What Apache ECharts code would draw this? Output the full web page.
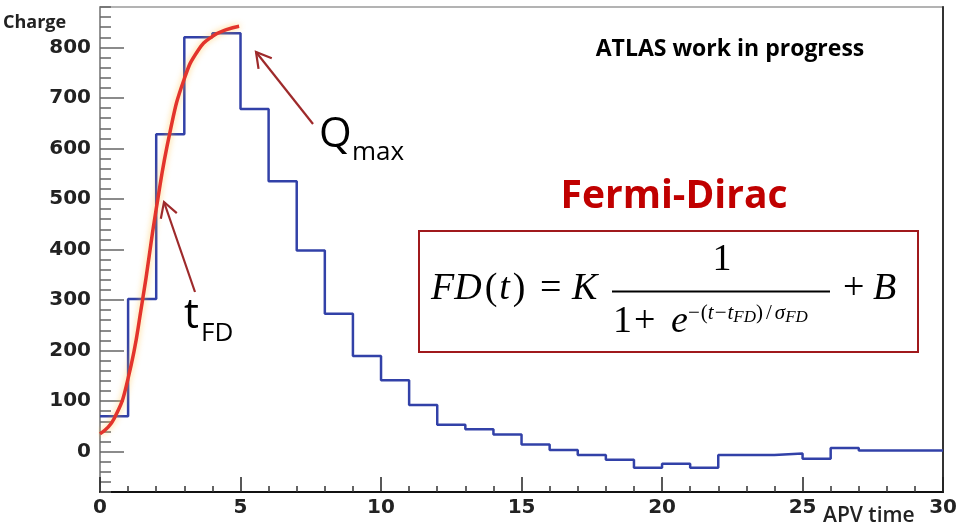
<!DOCTYPE html>
<html><head><meta charset="utf-8">
<script src="https://cdn.jsdelivr.net/npm/echarts@6/dist/echarts.min.js"></script>
<style>html,body{margin:0;padding:0;background:#fff}#c{width:960px;height:526px}</style>
</head><body><div id="c"></div>
<script>
// ---- data ----
const binCharge = [70, 302, 628, 820, 828, 678, 535, 398, 273, 189, 141, 92, 53, 44, 34, 14, 3, -7, -16, -32, -24, -32, -7, -7, -4, -14, 7, 2, 2, 2];
const fitTime = [0, 0.5, 1, 1.5, 2, 2.5, 3, 3.5, 4, 4.5, 4.95];
const fitCharge = [35, 65, 145, 295, 480, 635, 738, 795, 822, 835, 842];
const yTickLabels = [0, 100, 200, 300, 400, 500, 600, 700, 800];
const xTickLabels = [0, 5, 10, 15, 20, 25, 30];

const histData = binCharge.map((v, i) => [i, v]);
histData.push([binCharge.length, binCharge[binCharge.length - 1]]);
const fitData = fitTime.map((t, i) => [t, fitCharge[i]]);
const minorY = [];
for (let v = -80; v <= 880; v += 20) minorY.push(v);

const ctx = document.createElement('canvas').getContext('2d');
function tw(text, font) { ctx.font = font; return ctx.measureText(text).width; }

const graphics = [];
function T(x, base, text, size, opts) {
  opts = opts || {};
  const family = opts.family || '"Open Sans"';
  const style = opts.style || 'normal';
  const weight = opts.weight || 'normal';
  const font = style + ' ' + weight + ' ' + size + 'px ' + family;
  graphics.push({
    type: 'text', z: 100, silent: true,
    style: {
      x: x, y: base - 0.33 * size, text: text, font: font,
      fill: opts.color || '#000',
      align: opts.align || 'left', verticalAlign: 'middle'
    }
  });
  return tw(text, font);
}
function arrow(x1, y1, x2, y2) {
  const dx = x2 - x1, dy = y2 - y1, L = Math.hypot(dx, dy);
  const ux = dx / L, uy = dy / L, len = 17, a = 0.52;
  const w1 = [x2 - len * (ux * Math.cos(a) - uy * Math.sin(a)), y2 - len * (uy * Math.cos(a) + ux * Math.sin(a))];
  const w2 = [x2 - len * (ux * Math.cos(-a) - uy * Math.sin(-a)), y2 - len * (uy * Math.cos(-a) + ux * Math.sin(-a))];
  const st = { stroke: '#9e2a2b', lineWidth: 2.2, fill: null };
  graphics.push({ type: 'line', z: 100, silent: true, shape: { x1: x1, y1: y1, x2: x2, y2: y2 }, style: st });
  graphics.push({ type: 'polyline', z: 100, silent: true, shape: { points: [w1, [x2, y2], w2] }, style: st });
}

// titles / labels
T(3, 29, 'Charge', 18, { weight: 'bold', color: '#222' });
T(730, 57, 'ATLAS work in progress', 23, { weight: 'bold', align: 'center' });
T(823, 523, 'APV time', 21, { weight: '600', color: '#222' });
T(674, 210, 'Fermi-Dirac', 39, { weight: 'bold', color: '#c00000', align: 'center' });
// annotations
arrow(313, 124, 256, 52);
T(319, 149, 'Q', 42);
T(352, 161, 'max', 26);
arrow(195, 292, 164, 202);
T(184, 330, 't', 42);
T(201, 342, 'FD', 26);

// formula box
graphics.push({ type: 'rect', z: 90, silent: true, shape: { x: 419, y: 231, width: 499, height: 121 }, style: { stroke: '#a0191c', lineWidth: 2, fill: '#fff' } });
const serif = '"Liberation Serif"';
const it = { family: serif, style: 'italic' }, up = { family: serif };
let fx = 431;
fx += T(fx, 302, 'FD', 38, it) + 3;
fx += T(fx, 302, '(', 38, up) + 2;
fx += T(fx, 302, 't', 38, it) + 3;
fx += T(fx, 302, ')', 38, up);
T(540, 302, '=', 38, up);
T(572, 302, 'K', 38, it);
T(722, 273, '1', 38, { family: serif, align: 'center' });
graphics.push({ type: 'line', z: 100, silent: true, shape: { x1: 612, y1: 291.5, x2: 830, y2: 291.5 }, style: { stroke: '#000', lineWidth: 2 } });
T(613, 335, '1', 38, up);
T(634, 335, '+', 38, up);
T(671, 335, 'e', 38, it);
let ex = 688;
const supS = 21, subS = 17;
ex += T(ex, 320, '\u2212', supS, up) + 1;
ex += T(ex, 320, '(', supS, up);
ex += T(ex, 320, 't', supS, it) + 1;
ex += T(ex, 320, '\u2212', supS, up) + 1;
ex += T(ex, 320, 't', supS, it);
ex += T(ex, 323, 'FD', subS, it);
ex += T(ex, 320, ')', supS, up) + 3;
ex += T(ex, 320, '/', supS, up) + 3;
ex += T(ex, 320, '\u03c3', supS, it);
ex += T(ex, 323, 'FD', subS, it);
T(843, 302, '+', 38, up);
T(873, 302, 'B', 38, it);

const chart = echarts.init(document.getElementById('c'), null, { renderer: 'canvas' });
const tickFont = { fontFamily: 'DejaVu Sans', fontWeight: 'bold', fontSize: 20, color: '#222' };
chart.setOption({
  animation: false,
  backgroundColor: '#fff',
  grid: { left: 100, right: 14, top: 7, bottom: 34, show: true, borderColor: '#9a9a9a', borderWidth: 1.5, backgroundColor: '#fff' },
  xAxis: {
    type: 'value', min: 0, max: 30, interval: 5,
    axisLine: { show: true, onZero: false, lineStyle: { color: '#111', width: 2 } },
    axisTick: { show: true, inside: true, length: 15, lineStyle: { color: '#222', width: 1.5 } },
    minorTick: { show: true, splitNumber: 5, length: 6, lineStyle: { color: '#333', width: 1.5 } },
    splitLine: { show: false },
    axisLabel: Object.assign({ margin: 6, customValues: xTickLabels }, tickFont)
  },
  yAxis: [
    {
      type: 'value', min: -80, max: 880, position: 'left',
      axisLine: { show: true, onZero: false, lineStyle: { color: '#888', width: 1.5 } },
      axisTick: { show: true, inside: true, length: 24, customValues: yTickLabels, lineStyle: { color: '#666', width: 1.5 } },
      axisLabel: Object.assign({ margin: 9, customValues: yTickLabels }, tickFont),
      splitLine: { show: false }
    },
    {
      type: 'value', min: -80, max: 880, position: 'left',
      axisLine: { show: false, onZero: false },
      axisTick: { show: true, inside: true, length: 11, customValues: minorY, lineStyle: { color: '#666', width: 1.5 } },
      axisLabel: { show: false }, splitLine: { show: false }
    },
    {
      type: 'value', min: -80, max: 880, position: 'right',
      axisLine: { show: true, onZero: false, lineStyle: { color: '#333', width: 2 } },
      axisTick: { show: false }, axisLabel: { show: false }, splitLine: { show: false }
    }
  ],
  series: [
    {
      type: 'line', step: 'end', data: histData, symbol: 'none', yAxisIndex: 0, z: 3,
      lineStyle: { color: '#3241a8', width: 2.5 }
    },
    {
      type: 'line', smooth: true, data: fitData, symbol: 'none', yAxisIndex: 0, z: 4,
      lineStyle: { color: '#e3342c', width: 3.5, shadowColor: 'rgba(255,190,60,0.7)', shadowBlur: 6 }
    }
  ],
  graphic: graphics
});
</script>
</body></html>
